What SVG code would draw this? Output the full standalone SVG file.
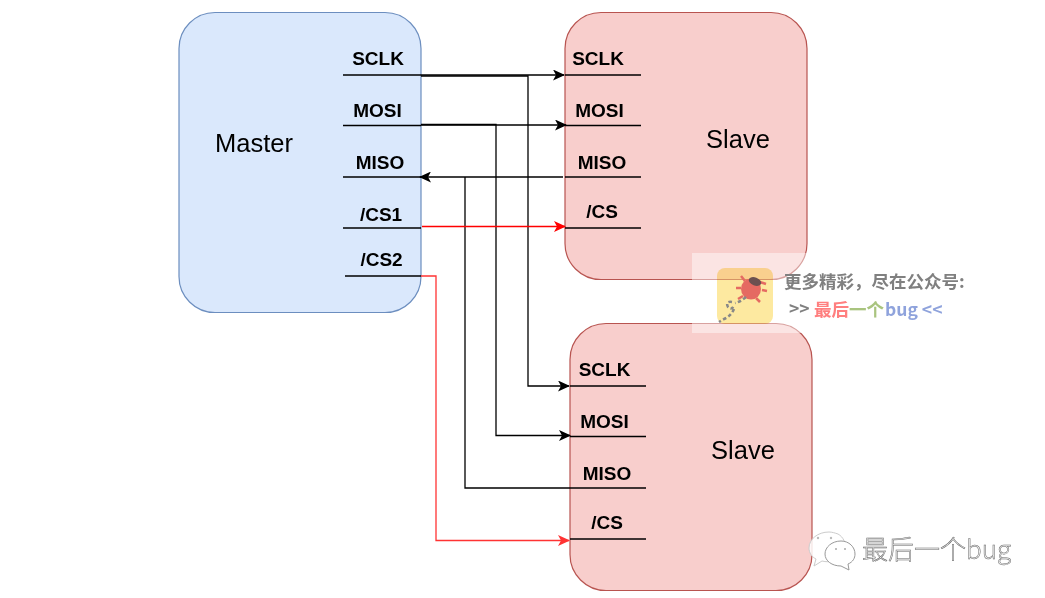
<svg xmlns="http://www.w3.org/2000/svg" width="1045" height="598" viewBox="0 0 1045 598">
<style>
.lb{font:bold 19px "Liberation Sans",Arial,sans-serif;fill:#000;text-anchor:middle}
.tt{font:25.500px "Liberation Sans",Arial,sans-serif;fill:#000;text-anchor:middle}
.pin{stroke:#000;stroke-width:1.3;fill:none}
.bk{stroke:#000;stroke-width:1.3;fill:none}
.rd{stroke:#f00;stroke-width:1.3;fill:none}
.rd2{stroke:#f33;stroke-width:1.3;fill:none}
.sl{fill:#f8cecc;stroke:#b85450;stroke-width:1.2}
.cj{font-family:"Noto Sans CJK SC","Liberation Sans",sans-serif;font-weight:bold;font-size:17.500px}
.leg{stroke:#e56a62;stroke-width:2.500;fill:none}
</style>
<defs>
<marker id="ab" markerWidth="12" markerHeight="11" refX="11" refY="5.500" orient="auto" markerUnits="userSpaceOnUse"><path d="M0 0L12 5.500L0 11L3 5.500Z" fill="#000"/></marker>
<marker id="ar" markerWidth="12" markerHeight="11" refX="11" refY="5.500" orient="auto" markerUnits="userSpaceOnUse"><path d="M0 0L12 5.500L0 11L3 5.500Z" fill="#f00"/></marker>
<marker id="ar2" markerWidth="12" markerHeight="11" refX="11" refY="5.500" orient="auto" markerUnits="userSpaceOnUse"><path d="M0 0L12 5.500L0 11L3 5.500Z" fill="#f33"/></marker>
</defs>
<rect width="1045" height="598" fill="#fff"/>
<g id="master">
<rect x="179" y="12.500" width="242" height="300" rx="36" fill="#dae8fc" stroke="#6c8ebf" stroke-width="1.2"/>
<text class="tt" x="254" y="152">Master</text>
<path class="pin" d="M343 75H421M343 125.500H421M343 177H421M343 228H421M345 276H421"/>
<text class="lb" x="378" y="64.500">SCLK</text><text class="lb" x="377.500" y="116.500">MOSI</text><text class="lb" x="380" y="168.500">MISO</text><text class="lb" x="381" y="221">/CS1</text><text class="lb" x="381.500" y="266">/CS2</text>
</g>
<g id="slave1">
<rect class="sl" x="565" y="12.500" width="242" height="267" rx="36"/>
<text class="tt" x="738" y="148">Slave</text>
<path class="pin" d="M565 75H641M565 125.500H641M565 177H641M565 228H641"/>
<text class="lb" x="598" y="64.500">SCLK</text><text class="lb" x="599.500" y="116.500">MOSI</text><text class="lb" x="602" y="168.500">MISO</text><text class="lb" x="602" y="218">/CS</text>
</g>
<g id="slave2">
<rect class="sl" x="570" y="323.500" width="242" height="267" rx="36"/>
<text class="tt" x="743" y="459">Slave</text>
<path class="pin" d="M570 386H646M570 436.500H646M570 488H646M570 539H646"/>
<text class="lb" x="604.500" y="375.500">SCLK</text><text class="lb" x="604.500" y="427.500">MOSI</text><text class="lb" x="607" y="479.500">MISO</text><text class="lb" x="607" y="529">/CS</text>
</g>
<g id="connectors">
<path class="bk" d="M421 75H564" marker-end="url(#ab)"/>
<path class="bk" d="M421 76H528V386H569" marker-end="url(#ab)"/>
<path class="bk" d="M421 125H566" marker-end="url(#ab)"/>
<path class="bk" d="M421 124.500H496V435.500H570" marker-end="url(#ab)"/>
<path class="bk" d="M563 177H420" marker-end="url(#ab)"/>
<path class="bk" d="M465 177V488H570"/>
<path class="rd" d="M422 226.500H565" marker-end="url(#ar)"/>
<path class="rd2" d="M421 276H436V540.500H569" marker-end="url(#ar2)"/>
</g>
<g id="watermark">
<rect x="692" y="253" width="118" height="80" fill="#fff" fill-opacity="0.45"/>
<rect x="717" y="268" width="56" height="56" rx="8" fill="#fde9a0" style="mix-blend-mode:multiply"/>
<path class="leg" d="M745 281L741 276M741 288H736M743 296L738 299M757 281L766 284M762 290L767 291M756 298L760 302"/>
<ellipse cx="751" cy="289" rx="10" ry="10.500" fill="#e56a62"/>
<ellipse cx="755" cy="281.500" rx="6.500" ry="4" fill="#6b5050" transform="rotate(20 755 281.500)"/>
<path d="M746 297Q740 302 735 303M732 302Q725 301 728 307Q732 311 734 305M734 309Q731 316 724 319L719 322" fill="none" stroke="#888" stroke-width="2.500" stroke-dasharray="3.500 2.500"/>
<text class="cj" x="784" y="288" fill="#808080">更多精彩，尽在公众号:</text>
<text class="cj" x="789" y="315" fill="#808080">&gt;&gt;</text>
<text class="cj" x="814" y="316" fill="#ff7f7f">最后</text>
<text class="cj" x="849" y="316" fill="#a9c47f">一个</text>
<text class="cj" x="885" y="316" fill="#8fa3dc">bug &lt;&lt;</text>
</g>
<g id="wechat">
<path d="M829 532C818 532 809 539 809 548C809 553 812 557 816 559L814 566L822 561C825 562 832 562 835 561C847 558 849 540 838 534C835 533 832 532 829 532Z" fill="#fff" fill-opacity=".85" stroke="#ccc"/>
<path d="M841 541C832 541 825 547 825 554C825 561 832 566 841 566L849 570L848 564C853 562 855 558 855 554C855 547 849 541 841 541Z" fill="#fff" stroke="#999"/>
<circle cx="836" cy="549" r="1" fill="#aaa"/><circle cx="845" cy="549" r="1" fill="#aaa"/><circle cx="818" cy="538" r="1.200" fill="#bbb"/><circle cx="831" cy="538" r="1.200" fill="#bbb"/>
<text x="862" y="559" font-family="Noto Sans CJK SC,sans-serif" font-size="26" font-weight="300" fill="#f4f4f4" stroke="#666" stroke-width=".5">最后一个bug</text>
</g>
</svg>
